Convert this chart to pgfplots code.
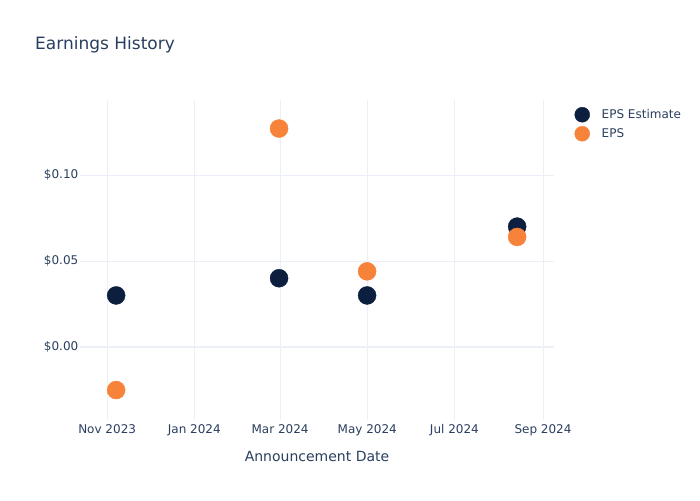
\documentclass[border=0pt]{standalone}
\usepackage{pgfplots}
\pgfplotsset{compat=1.18}
\usepackage{fontspec}
\setmainfont{DejaVu Sans}
\definecolor{txt}{HTML}{2A3F5F}
\definecolor{gridc}{HTML}{EBF0F8}
\definecolor{navy}{HTML}{0C1F3F}
\definecolor{orng}{HTML}{F7823A}
\begin{document}
\begin{tikzpicture}
\fill[white] (0pt,0pt) rectangle (700pt,500pt);
\begin{axis}[
  at={(80pt,80pt)}, anchor=south west, scale only axis,
  width=474pt, height=320pt,
  xmin=-19, xmax=312.7, ymin=-0.0424, ymax=0.1436,
  axis line style={draw=none},
  major tick length=0pt,
  grid=major,
  grid style={gridc, line width=1pt},
  xtick={0,61,121,182,243,305},
  xticklabels={Nov 2023,Jan 2024,Mar 2024,May 2024,Jul 2024,Sep 2024},
  ytick={0,0.05,0.1},
  yticklabels={\$0.00,\$0.05,\$0.10},
  tick label style={font=\fontsize{12}{14}\selectfont, text=txt},
  xticklabel style={inner sep=0pt, yshift=-4pt},
  yticklabel style={inner sep=0pt, xshift=-1.5pt},
  legend style={at={(1.0433,0.978)}, anchor=north west, draw=none, fill=none,
    font=\fontsize{12}{14}\selectfont, text=txt, row sep=4pt, column sep=11pt,
    inner sep=0pt, nodes={inner sep=1pt},
    legend cell align=left},
  legend image code/.code={\path[#1, mark size=7.5pt] plot coordinates {(0pt,0pt)};},
  clip=false,
]
\draw[gridc, line width=2pt] (axis cs:-19,0) -- (axis cs:312.7,0);
\addplot[only marks, mark=*, mark size=9pt, navy, mark options={draw=navy, fill=navy}]
  coordinates {(6.3,0.03) (120.3,0.04) (181.9,0.03) (286.9,0.07)};
\addlegendentry{EPS Estimate}
\addplot[only marks, mark=*, mark size=9pt, orng, mark options={draw=orng, fill=orng}]
  coordinates {(6.3,-0.025) (120.3,0.127) (181.9,0.044) (286.9,0.064)};
\addlegendentry{EPS}
\end{axis}
\node[anchor=base west, font=\fontsize{17}{20}\selectfont, text=txt, inner sep=0pt] at (35pt,450pt) {Earnings History};
\node[anchor=base, font=\fontsize{14}{17}\selectfont, text=txt, inner sep=0pt] at (317pt,39pt) {Announcement Date};
\pgfresetboundingbox
\useasboundingbox (0pt,0pt) rectangle (700pt,500pt);
\end{tikzpicture}
\end{document}
